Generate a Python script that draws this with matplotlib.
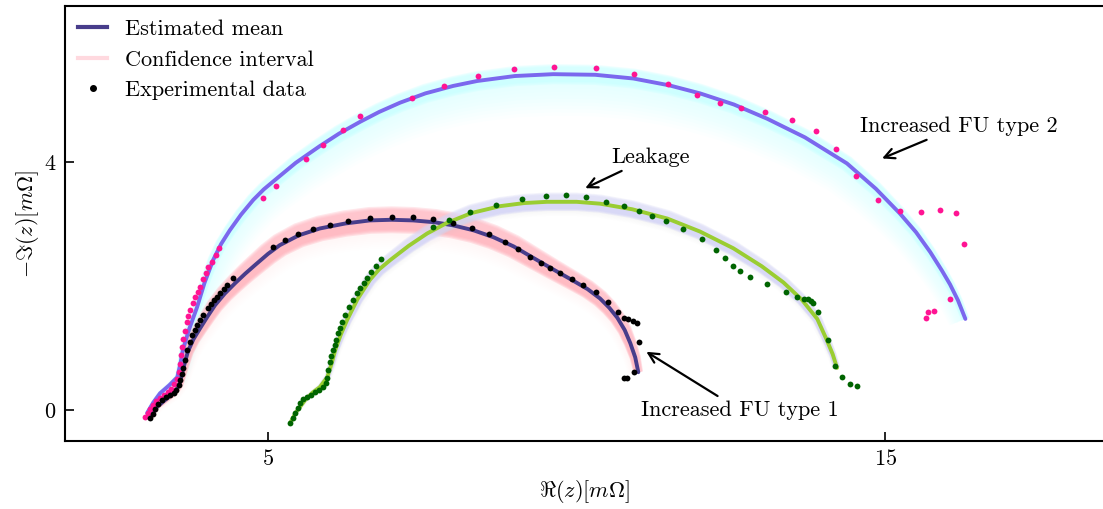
#---------------------------------------------------------------------------
#  diagrama de Nyquist - media estimada, intervalo de confianca e dados
#---------------------------------------------------------------------------
import numpy as np
import matplotlib
matplotlib.use("Agg")
import matplotlib.pyplot as plt
from matplotlib.lines import Line2D

plt.rcParams['font.family'] = 'serif'
plt.rcParams['font.serif'] = ['cmr10']
plt.rcParams['mathtext.fontset'] = 'cm'
plt.rcParams['axes.unicode_minus'] = False
plt.rcParams['axes.formatter.use_mathtext'] = True

# ---- dados experimentais: Increased FU type 1 (preto)
re_fu1 = [3.09, 3.13, 3.17, 3.22, 3.28, 3.34, 3.41, 3.47, 3.51, 3.55, 3.57, 3.60, 3.62, 3.65,
          3.69, 3.73, 3.77, 3.81, 3.85, 3.90, 3.95, 4.03, 4.08, 4.12, 4.17, 4.22, 4.28, 4.34,
          4.43, 5.08, 5.28, 5.49, 5.73, 6.00, 6.30, 6.65, 7.01, 7.35, 7.67, 8.00, 8.31, 8.58,
          8.84, 9.05, 9.25, 9.42, 9.57, 9.73, 9.93, 10.11, 10.32, 10.51, 10.67, 10.77, 10.83,
          10.92, 10.98, 11.01, 10.93, 10.82, 10.77]
im_fu1 = [-0.13, -0.06, 0.01, 0.09, 0.16, 0.21, 0.24, 0.28, 0.32, 0.40, 0.48, 0.58, 0.68, 0.80,
          0.97, 1.09, 1.21, 1.29, 1.37, 1.45, 1.53, 1.65, 1.71, 1.77, 1.83, 1.89, 1.96, 2.02,
          2.13, 2.63, 2.74, 2.84, 2.92, 2.98, 3.05, 3.10, 3.11, 3.11, 3.08, 3.02, 2.94, 2.84,
          2.71, 2.60, 2.47, 2.37, 2.29, 2.21, 2.11, 2.02, 1.90, 1.74, 1.58, 1.48, 1.47,
          1.44, 1.40, 1.10, 0.61, 0.52, 0.52]

# media estimada FU type 1
re_fu1_m = [3.09, 3.20, 3.33, 3.49, 3.56, 3.59, 3.64, 3.70, 3.79, 3.90, 4.02, 4.14, 4.30, 4.47,
            4.63, 4.79, 5.00, 5.19, 5.50, 5.84, 6.25, 6.65, 7.00, 7.35, 7.70, 8.00, 8.33, 8.65,
            8.98, 9.29, 9.62, 9.94, 10.18, 10.38, 10.53, 10.66, 10.78, 10.87, 10.95, 11.00]
im_fu1_m = [-0.13, 0.05, 0.16, 0.29, 0.40, 0.52, 0.72, 0.94, 1.14, 1.32, 1.51, 1.69, 1.88, 2.05,
            2.20, 2.34, 2.52, 2.66, 2.82, 2.93, 3.01, 3.06, 3.07, 3.06, 3.03, 2.98, 2.90, 2.79,
            2.64, 2.46, 2.27, 2.09, 1.95, 1.80, 1.65, 1.49, 1.29, 1.08, 0.85, 0.61]

# ---- dados experimentais: Increased FU type 2 (rosa)
re_fu2 = [3.01, 3.05, 3.09, 3.14, 3.19, 3.25, 3.31, 3.38, 3.43, 3.48, 3.52, 3.55, 3.57, 3.59,
          3.61, 3.63, 3.65, 3.68, 3.71, 3.74, 3.78, 3.82, 3.86, 3.90, 3.95, 3.99, 4.03, 4.09,
          4.16, 4.21, 4.92, 5.13, 5.62, 5.89, 6.22, 6.49, 7.33, 7.85, 8.40, 8.99, 9.64, 10.32,
          10.93, 11.48, 11.95, 12.33, 12.67, 13.06, 13.49, 13.88, 14.21, 14.53, 14.89, 15.24,
          15.58, 15.89, 16.15, 16.28, 16.05, 15.79, 15.70, 15.66]
im_fu2 = [-0.11, -0.05, 0.01, 0.08, 0.14, 0.19, 0.24, 0.29, 0.34, 0.42, 0.50, 0.62, 0.75, 0.88,
          1.02, 1.15, 1.28, 1.42, 1.52, 1.61, 1.72, 1.82, 1.90, 1.98, 2.11, 2.21, 2.31, 2.39,
          2.50, 2.61, 3.42, 3.61, 4.05, 4.27, 4.52, 4.74, 5.03, 5.23, 5.39, 5.50, 5.53, 5.52,
          5.42, 5.26, 5.08, 4.95, 4.87, 4.81, 4.68, 4.50, 4.21, 3.77, 3.39, 3.21,
          3.19, 3.23, 3.18, 2.68, 1.79, 1.60, 1.58, 1.48]

re_fu2_m = [3.04, 3.14, 3.25, 3.40, 3.53, 3.58, 3.62, 3.72, 3.85, 3.97, 4.11, 4.24, 4.38, 4.56,
            4.76, 4.93, 5.11, 5.45, 5.84, 6.15, 6.49, 6.80, 7.14, 7.55, 8.00, 8.39, 9.00, 9.62,
            10.30, 10.92, 11.50, 12.00, 12.55, 13.09, 13.70, 14.38, 14.85, 15.24, 15.50, 15.73,
            15.92, 16.05, 16.18, 16.30]
im_fu2_m = [-0.05, 0.12, 0.27, 0.40, 0.53, 0.75, 0.97, 1.30, 1.66, 2.05, 2.42, 2.68, 2.90, 3.15,
            3.39, 3.56, 3.71, 3.99, 4.26, 4.46, 4.65, 4.81, 4.96, 5.11, 5.23, 5.31, 5.39, 5.42,
            5.41, 5.35, 5.24, 5.11, 4.93, 4.70, 4.40, 3.98, 3.57, 3.17, 2.87, 2.55,
            2.25, 2.03, 1.77, 1.47]

# ---- dados experimentais: Leakage (verde)
re_leak = [5.36, 5.40, 5.44, 5.48, 5.52, 5.57, 5.63, 5.70, 5.76, 5.83, 5.89, 5.94, 5.96, 5.97,
           6.00, 6.02, 6.05, 6.08, 6.10, 6.13, 6.17, 6.20, 6.25, 6.31, 6.38, 6.44, 6.49, 6.56,
           6.60, 6.67, 6.75, 6.83, 7.67, 7.93, 8.27, 8.70, 9.12, 9.51, 9.83, 10.15, 10.48, 10.77,
           11.01, 11.22, 11.45, 11.73, 12.03, 12.26, 12.41, 12.54, 12.65, 12.81, 13.09, 13.40,
           13.57, 13.69, 13.75, 13.80, 13.83, 13.91, 14.07, 14.19, 14.30, 14.43, 14.55]
im_leak = [-0.21, -0.13, -0.05, 0.03, 0.11, 0.17, 0.21, 0.25, 0.29, 0.33, 0.37, 0.44, 0.52, 0.65,
           0.77, 0.87, 0.97, 1.05, 1.13, 1.24, 1.33, 1.42, 1.53, 1.66, 1.77, 1.89, 1.97, 2.05,
           2.13, 2.23, 2.32, 2.44, 2.95, 3.06, 3.19, 3.31, 3.40, 3.45, 3.47, 3.44, 3.35, 3.29,
           3.21, 3.13, 3.05, 2.92, 2.76, 2.58, 2.45, 2.32, 2.24, 2.15, 2.03, 1.90,
           1.82, 1.79, 1.79, 1.76, 1.73, 1.58, 1.13, 0.71, 0.53, 0.42, 0.39]

re_leak_m = [5.36, 5.45, 5.60, 5.72, 5.84, 5.96, 6.03, 6.09, 6.18, 6.28, 6.45, 6.65, 6.80, 6.98,
             7.28, 7.58, 7.90, 8.30, 8.76, 9.15, 9.52, 10.00, 10.38, 10.90, 11.47, 12.00, 12.54,
             13.00, 13.35, 13.65, 13.90, 14.05, 14.15, 14.22]
im_leak_m = [-0.21, -0.04, 0.16, 0.28, 0.37, 0.53, 0.75, 0.97, 1.22, 1.45, 1.79, 2.10, 2.27, 2.42,
             2.65, 2.85, 3.02, 3.18, 3.29, 3.34, 3.36, 3.36, 3.33, 3.24, 3.09, 2.88, 2.61,
             2.32, 2.06, 1.78, 1.47, 1.14, 0.90, 0.68]


def normais(x, y):
    dx = np.gradient(x)
    dy = np.gradient(y)
    n = np.hypot(dx, dy)
    return -dy / n, dx / n


def faixa(ax, x, y, w_out, w_in, cor, alpha, z=1):
    # poligono entre curva deslocada para fora (w_out) e para dentro (w_in)
    x = np.asarray(x); y = np.asarray(y)
    nx, ny = normais(x, y)
    xo, yo = x + w_out * nx, y + w_out * ny
    xi, yi = x - w_in * nx, y - w_in * ny
    ax.fill(np.r_[xo, xi[::-1]], np.r_[yo, yi[::-1]], color=cor, alpha=alpha, lw=0, zorder=z)


def intervalo(ax, x, y, w_core, w_fade, cor, a_core, a_fade, n_fade=10):
    y = np.asarray(y)
    s = 0.2 + 0.8 * np.clip(y / y.max(), 0, 1)
    # bordas suaves do nucleo
    for k in range(4):
        faixa(ax, x, y, w_core * s * (1 + 0.12 * k), w_core * s * (1 + 0.12 * k), cor, a_core / 3)
    # degrade para o lado de dentro do arco
    for k in range(1, n_fade + 1):
        faixa(ax, x, y, 0.0, (w_core + w_fade * k / n_fade) * s, cor, a_fade)


fig = plt.figure(figsize=(11.03, 5.09), dpi=100)
ax = fig.add_axes([65 / 1103, 1 - 441 / 509, 1 - 65 / 1103, 435 / 509])

intervalo(ax, re_fu2_m, im_fu2_m, 0.12, 0.55, '#ccffff', 0.9, 0.06)
intervalo(ax, re_fu1_m, im_fu1_m, 0.16, 0.3, '#ffb6c1', 0.95, 0.012)
intervalo(ax, re_leak_m, im_leak_m, 0.11, 0.12, '#d8d8f6', 0.85, 0.02)

lw = 2.8
ax.plot(re_fu2_m, im_fu2_m, color='mediumslateblue', lw=lw, solid_capstyle='round', zorder=3)
ax.plot(re_fu2, im_fu2, 'o', color='deeppink', ms=4.2, mew=0, zorder=4)
ax.plot(re_fu1_m, im_fu1_m, color='darkslateblue', lw=lw, solid_capstyle='round', zorder=3)
ax.plot(re_fu1, im_fu1, 'o', color='black', ms=4.2, mew=0, zorder=4)
ax.plot(re_leak_m, im_leak_m, color='yellowgreen', lw=lw, solid_capstyle='round', zorder=3)
ax.plot(re_leak, im_leak, 'o', color='darkgreen', ms=4.2, mew=0, zorder=4)

seta = dict(arrowstyle='->', lw=1.6, color='black', mutation_scale=18, shrinkA=2, shrinkB=0)
ax.annotate('Leakage', xy=(10.14, 3.58), xytext=(11.2, 4.08), fontsize=16,
            ha='center', va='center', arrowprops=seta)
ax.annotate('Increased FU type 2', xy=(14.95, 4.06), xytext=(16.2, 4.58), fontsize=16,
            ha='center', va='center', arrowprops=seta)
ax.annotate('Increased FU type 1', xy=(11.13, 0.94), xytext=(12.65, 0.0), fontsize=16,
            ha='center', va='center', arrowprops=seta)

ax.set_xlim(1.71, 18.53)
ax.set_ylim(-0.5, 6.52)
ax.set_xticks([5, 15])
ax.set_yticks([0, 4])
ax.tick_params(direction='in', length=6.5, width=1.2, labelsize=16, pad=6)
for lado in ['left', 'top', 'bottom']:
    ax.spines[lado].set_linewidth(1.5)
ax.spines['right'].set_visible(False)

ax.set_xlabel(r'$\Re(z)[m\Omega]$', fontsize=16, labelpad=6)
ax.set_ylabel(r'$-\Im(z)[m\Omega]$', fontsize=16, labelpad=2)

handles = [Line2D([], [], color='darkslateblue', lw=3),
           Line2D([], [], color='pink', lw=3, alpha=0.6),
           Line2D([], [], marker='o', ls='', color='black', ms=4)]
ax.legend(handles, ['Estimated mean', 'Confidence interval', 'Experimental data'],
          loc='upper left', frameon=False, fontsize=16, handlelength=1.3,
          handletextpad=0.8, borderaxespad=0.2, borderpad=0.4, labelspacing=0.5)

fig.savefig('out.png', dpi=100)
